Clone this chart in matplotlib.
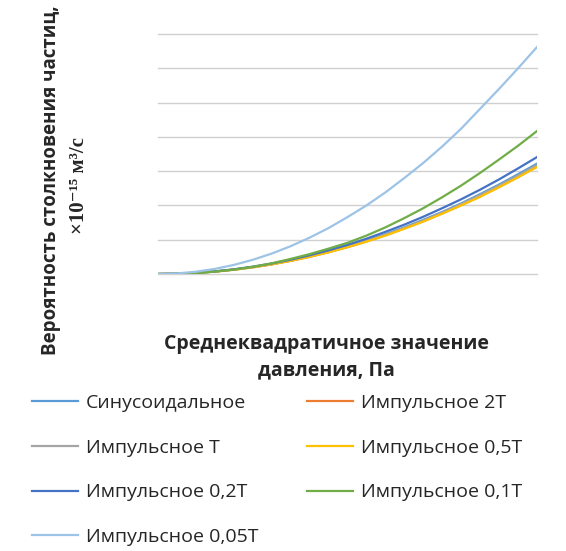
import matplotlib

matplotlib.use("Agg")
import matplotlib.pyplot as plt

# rms pressure (arbitrary units, axis has no tick labels)
pressure = [0, 0.5, 1, 1.5, 2, 2.5, 3, 3.5, 4, 4.5, 5,
            5.5, 6, 6.5, 7, 7.5, 8, 8.5, 9, 9.5, 10]

# collision probability, x1e-15 m^3/s (grid step = 1)
sinus = [0, 0.008, 0.032, 0.072, 0.129, 0.201, 0.290, 0.394, 0.515, 0.652, 0.805,
         0.974, 1.16, 1.36, 1.58, 1.81, 2.06, 2.33, 2.61, 2.91, 3.22]
imp_2t = [0, 0.008, 0.031, 0.071, 0.126, 0.196, 0.283, 0.385, 0.502, 0.636, 0.785,
          0.950, 1.13, 1.33, 1.54, 1.77, 2.01, 2.27, 2.54, 2.83, 3.14]
imp_t = [0, 0.008, 0.032, 0.072, 0.127, 0.199, 0.286, 0.390, 0.509, 0.644, 0.795,
         0.962, 1.14, 1.34, 1.56, 1.79, 2.04, 2.30, 2.58, 2.87, 3.18]
imp_05t = [0, 0.008, 0.031, 0.070, 0.125, 0.195, 0.281, 0.382, 0.499, 0.632, 0.780,
           0.944, 1.12, 1.32, 1.53, 1.76, 2.00, 2.25, 2.53, 2.82, 3.12]
imp_02t = [0, 0.009, 0.034, 0.077, 0.136, 0.213, 0.307, 0.418, 0.546, 0.690, 0.850,
           1.03, 1.23, 1.44, 1.67, 1.92, 2.18, 2.46, 2.76, 3.08, 3.41]
imp_01t = [0, 0.007, 0.030, 0.070, 0.130, 0.210, 0.310, 0.440, 0.580, 0.740, 0.910,
           1.12, 1.36, 1.63, 1.92, 2.24, 2.58, 2.95, 3.34, 3.74, 4.17]
imp_005t = [0, 0.017, 0.066, 0.149, 0.265, 0.414, 0.596, 0.811, 1.06, 1.34, 1.66,
            2.00, 2.38, 2.80, 3.24, 3.72, 4.24, 4.82, 5.40, 6.00, 6.62]

series = [
    ("Синусоидальное", sinus, "#5B9BD5"),
    ("Импульсное 2T", imp_2t, "#ED7D31"),
    ("Импульсное T", imp_t, "#A5A5A5"),
    ("Импульсное 0,5T", imp_05t, "#FFC000"),
    ("Импульсное 0,2T", imp_02t, "#4472C4"),
    ("Импульсное 0,1T", imp_01t, "#70AD47"),
    ("Импульсное 0,05T", imp_005t, "#9DC3E6"),
]

plt.rcParams["font.family"] = ["Open Sans", "DejaVu Sans"]
text_color = "#262626"

fig = plt.figure(figsize=(5.66, 5.51), dpi=100)
ax = fig.add_axes([158 / 566, 1 - 274 / 551, (537 - 158) / 566, (274 - 34) / 551])

handles = {}
for name, values, color in series:
    (line,) = ax.plot(pressure, values, color=color, lw=1.6, label=name)
    handles[name] = line

ax.set_xlim(0, 10)
ax.set_ylim(0, 7)
ax.set_yticks(range(0, 8))
ax.set_xticks([])
ax.tick_params(left=False, labelleft=False)
ax.grid(axis="y", color="#D0D0D0", lw=1.0)
for gl in ax.get_ygridlines():
    gl.set_clip_on(False)
ax.set_axisbelow(True)
for spine in ax.spines.values():
    spine.set_visible(False)

fig.text(326 / 566, 1 - 357 / 551, "Среднеквадратичное значение\nдавления, Па",
         ha="center", va="center", fontsize=14, fontweight="bold",
         linespacing=1.45, color=text_color)

fig.text(51 / 566, 1 - 180 / 551, "Вероятность столкновения частиц,",
         rotation=90, ha="center", va="center", fontsize=13.5, fontweight="bold",
         color=text_color)
fig.text(79 / 566, 1 - 186 / 551, "×10⁻¹⁵ м³/с",
         rotation=90, ha="center", va="center", fontsize=15, fontweight="bold",
         family=["Liberation Serif", "DejaVu Serif"], color=text_color)

# Excel fills the legend row by row; matplotlib fills columns
order = ["Синусоидальное", "Импульсное T", "Импульсное 0,2T", "Импульсное 0,05T",
         "Импульсное 2T", "Импульсное 0,5T", "Импульсное 0,1T"]
leg = fig.legend([handles[n] for n in order], order, ncol=2,
                 loc="upper left", bbox_to_anchor=(22 / 566, 1 - 384 / 551),
                 frameon=False, fontsize=14, handlelength=2.37, handletextpad=0.41,
                 labelspacing=1.38, columnspacing=2.5, borderpad=0)
for txt in leg.get_texts():
    txt.set_color(text_color)

fig.savefig("out.png", dpi=100)
